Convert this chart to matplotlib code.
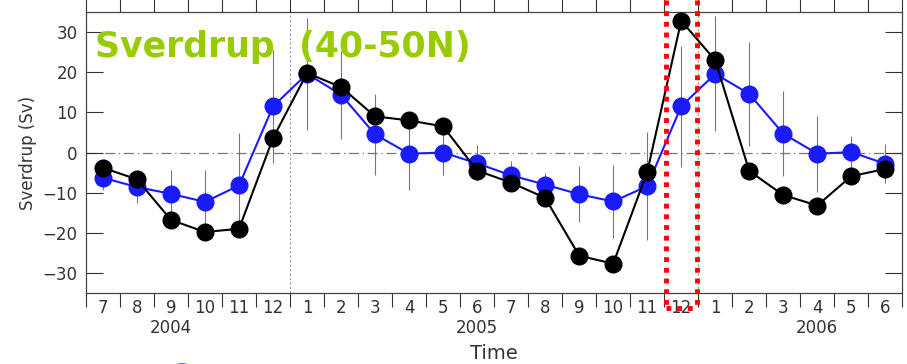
import numpy as np
import matplotlib
matplotlib.use("Agg")
import matplotlib.pyplot as plt
from matplotlib.lines import Line2D
from matplotlib.patches import Circle

# monthly Sverdrup transport, Jul 2004 - Jun 2006
months = ["7", "8", "9", "10", "11", "12",
          "1", "2", "3", "4", "5", "6", "7", "8", "9", "10", "11", "12",
          "1", "2", "3", "4", "5", "6"]
year_labels = ["2004", "2005", "2006"]
year_label_idx = [2, 11, 21]

blue = [-6.3, -8.6, -10.3, -12.3, -8.2, 11.5,
        19.6, 14.4, 4.5, -0.3, 0.0, -2.7, -5.7, -8.0, -10.4, -12.2, -8.4, 11.5,
        19.6, 14.6, 4.7, -0.3, 0.1, -2.8]
black = [-3.8, -6.7, -16.8, -19.8, -19.0, 3.6,
         19.8, 16.3, 9.0, 8.0, 6.5, -4.5, -7.5, -11.3, -25.7, -27.7, -4.9, 32.8,
         23.0, -4.6, -10.6, -13.2, -5.9, -4.1]
err = [3, 4, 6, 8, 13, 14,
       14, 11, 10, 9, 5.5, 4.5, 3.5, 3, 7, 9, 13.4, 15,
       14.3, 13, 10.5, 9.5, 4, 4.8]

x = np.arange(len(months))
tick_col = "#333333"

fig = plt.figure(figsize=(9.07, 3.64), dpi=100)
fig.patch.set_facecolor("white")
ax = fig.add_axes([0.0948, 0.195, 0.9, 0.772])

ax.set_xlim(-0.5, len(months) - 0.5)
ax.set_ylim(-35, 35)

# zero line and year separators
ax.axhline(0, color="#777777", lw=0.9, ls=(0, (8, 3, 1, 3)), zorder=1)
for xb in [5.5, 17.5]:
    ax.axvline(xb, color="#999999", lw=0.8, ls=(0, (2, 2)), zorder=1)

ax.errorbar(x, blue, yerr=err, fmt="none", ecolor="#777777", elinewidth=0.8,
            capsize=0, zorder=2)
ax.plot(x, blue, color="#1a1aff", lw=1.5, marker="o", ms=12,
        mfc="#1a1aff", mec="#1a1aff", zorder=3)
ax.plot(x, black, color="black", lw=1.5, marker="o", ms=12,
        mfc="black", mec="black", zorder=4)

# y ticks inward on both sides
ax.set_yticks([-30, -20, -10, 0, 10, 20, 30])
ax.tick_params(axis="y", direction="in", length=12, width=0.8, colors=tick_col,
               labelsize=12, right=True, pad=6)

# month boundaries as outward ticks top and bottom, labels centred in cells
ax.set_xticks(np.arange(len(months) + 1) - 0.5)
ax.set_xticklabels([])
ax.tick_params(axis="x", direction="out", length=10, width=0.8, colors=tick_col,
               top=True)
ax.set_xticks(x, minor=True)
ax.set_xticklabels(months, minor=True)
ax.tick_params(axis="x", which="minor", length=0, labelsize=12, pad=4,
               colors=tick_col)
for spine in ax.spines.values():
    spine.set_color("#444444")
    spine.set_linewidth(0.9)

for lab, i in zip(year_labels, year_label_idx):
    ax.text(i, -0.125, lab, transform=ax.get_xaxis_transform(), ha="center",
            va="center", fontsize=12, color=tick_col)

ax.set_ylabel("Sverdrup (Sv)", fontsize=12, color=tick_col, labelpad=4)
ax.text(0.5, -0.215, "Time", transform=ax.transAxes, ha="center", va="center",
        fontsize=14, color=tick_col)

ax.text(0.011, 0.875, "Sverdrup  (40-50N)", transform=ax.transAxes, ha="left",
        va="center", fontsize=25, fontweight="bold", color="#99cc00", zorder=5)

# highlight box around Dec 2005
for xf in [666 / 907, 697 / 907]:
    fig.add_artist(Line2D([xf, xf], [1.0, 1 - 308 / 364], color="red", lw=3.5,
                          ls=(0, (1, 1.2))))
fig.add_artist(Line2D([666 / 907, 697 / 907], [1 - 308 / 364] * 2, color="red",
                      lw=3.5, ls=(0, (1, 1.2))))

# legend bullet peeking in at the bottom
fig.add_artist(Circle((182 / 907, 1 - 368 / 364), 10 / 907, color="#2a2aff",
                      transform=fig.transFigure, clip_on=False))

fig.savefig("out.png", dpi=100)
